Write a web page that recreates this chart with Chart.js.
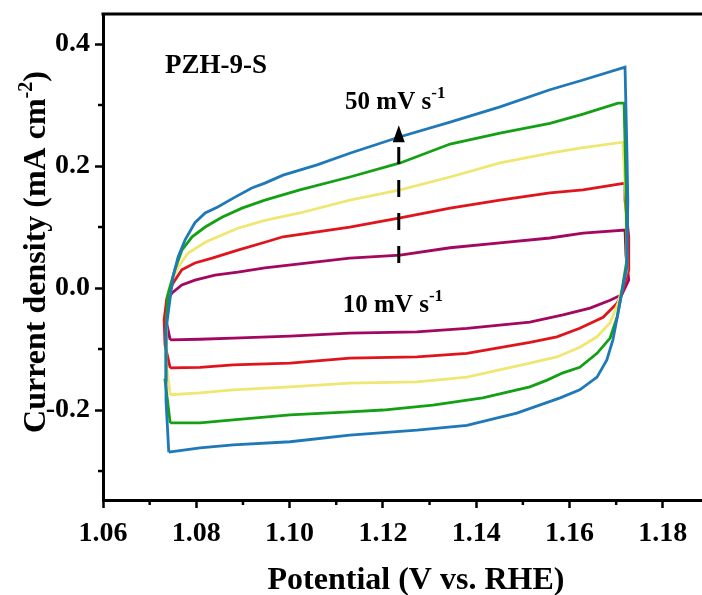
<!DOCTYPE html>
<html>
<head>
<meta charset="utf-8">
<script src="https://cdn.jsdelivr.net/npm/chart.js@4.4.1/dist/chart.umd.min.js"></script>
<style>
html, body { margin: 0; padding: 0; background: #fff; overflow: hidden; }
canvas { display: block; }
</style>
</head>
<body>
<canvas id="cv" width="702" height="595"></canvas>
<script>
// CV loops of PZH-9-S at different scan rates (mV s-1)
const scanRates = [50, 40, 30, 20, 10];
const lineColors = ['#1f78b8', '#14a014', '#f0e672', '#e0141c', '#a3075f'];

// potential (V vs. RHE) / current density (mA cm-2), one full loop each
const potential50 = [1.0741, 1.0735, 1.0735, 1.0744, 1.0750, 1.0761, 1.0776, 1.0797, 1.0819, 1.0846, 1.0883, 1.0919, 1.0947, 1.0986, 1.1059, 1.1129, 1.1237, 1.1344, 1.1451, 1.1558, 1.1629, 1.1719, 1.1723, 1.1725, 1.1723, 1.1712, 1.1704, 1.1693, 1.1680, 1.1659, 1.1622, 1.1580, 1.1487, 1.1380, 1.1273, 1.1129, 1.1001, 1.0879, 1.0808, 1.0741];
const current50 = [-0.269, -0.184, -0.069, -0.016, 0.018, 0.051, 0.079, 0.107, 0.123, 0.133, 0.149, 0.164, 0.172, 0.185, 0.202, 0.221, 0.248, 0.272, 0.297, 0.325, 0.341, 0.362, 0.226, 0.144, 0.034, -0.008, -0.041, -0.085, -0.118, -0.146, -0.167, -0.180, -0.205, -0.225, -0.233, -0.241, -0.252, -0.257, -0.262, -0.269];

const potential40 = [1.0744, 1.0733, 1.0735, 1.0739, 1.0754, 1.0769, 1.0791, 1.0819, 1.0855, 1.0898, 1.0947, 1.1022, 1.1129, 1.1237, 1.1344, 1.1451, 1.1558, 1.1629, 1.1704, 1.1717, 1.1721, 1.1723, 1.1710, 1.1702, 1.1687, 1.1659, 1.1622, 1.1586, 1.1552, 1.1515, 1.1414, 1.1307, 1.1200, 1.1129, 1.1001, 1.0879, 1.0808, 1.0744];
const current40 = [-0.221, -0.151, -0.069, -0.011, 0.030, 0.062, 0.084, 0.100, 0.116, 0.131, 0.144, 0.161, 0.182, 0.205, 0.236, 0.254, 0.270, 0.285, 0.303, 0.303, 0.172, 0.046, -0.015, -0.048, -0.082, -0.107, -0.130, -0.139, -0.151, -0.162, -0.180, -0.192, -0.200, -0.203, -0.208, -0.216, -0.221, -0.221];

const potential30 = [1.0744, 1.0735, 1.0737, 1.0741, 1.0748, 1.0761, 1.0782, 1.0819, 1.0855, 1.0889, 1.0947, 1.1022, 1.1129, 1.1237, 1.1344, 1.1451, 1.1558, 1.1629, 1.1714, 1.1721, 1.1723, 1.1704, 1.1687, 1.1659, 1.1622, 1.1573, 1.1515, 1.1380, 1.1273, 1.1129, 1.1001, 1.0879, 1.0808, 1.0744];
const current30 = [-0.175, -0.118, -0.052, -0.003, 0.013, 0.034, 0.057, 0.075, 0.087, 0.098, 0.111, 0.123, 0.144, 0.161, 0.182, 0.205, 0.221, 0.230, 0.239, 0.144, 0.030, -0.025, -0.057, -0.080, -0.097, -0.113, -0.123, -0.146, -0.154, -0.156, -0.162, -0.167, -0.172, -0.175];

const potential20 = [1.0744, 1.0733, 1.0731, 1.0737, 1.0750, 1.0769, 1.0797, 1.0834, 1.0889, 1.0947, 1.0986, 1.1129, 1.1237, 1.1344, 1.1451, 1.1558, 1.1629, 1.1719, 1.1719, 1.1727, 1.1727, 1.1712, 1.1702, 1.1672, 1.1622, 1.1573, 1.1515, 1.1380, 1.1273, 1.1129, 1.1001, 1.0879, 1.0808, 1.0744];
const current20 = [-0.131, -0.093, -0.052, -0.016, 0.008, 0.030, 0.041, 0.049, 0.062, 0.075, 0.084, 0.100, 0.115, 0.131, 0.144, 0.156, 0.161, 0.172, 0.144, 0.084, 0.030, -0.011, -0.025, -0.048, -0.066, -0.080, -0.089, -0.107, -0.113, -0.115, -0.123, -0.126, -0.130, -0.131];

const potential10 = [1.0744, 1.0735, 1.0737, 1.0748, 1.0769, 1.0797, 1.0840, 1.0889, 1.0947, 1.1129, 1.1237, 1.1344, 1.1451, 1.1558, 1.1629, 1.1719, 1.1721, 1.1727, 1.1712, 1.1687, 1.1644, 1.1586, 1.1515, 1.1380, 1.1273, 1.1129, 1.1001, 1.0879, 1.0808, 1.0744];
const current10 = [-0.085, -0.052, -0.020, -0.008, 0.005, 0.013, 0.021, 0.026, 0.033, 0.049, 0.054, 0.066, 0.074, 0.082, 0.090, 0.095, 0.054, 0.013, -0.011, -0.020, -0.033, -0.044, -0.056, -0.066, -0.072, -0.074, -0.079, -0.082, -0.084, -0.085];

const potentials = [potential50, potential40, potential30, potential20, potential10];
const currents = [current50, current40, current30, current20, current10];

// axes
const xTicks = [1.06, 1.08, 1.10, 1.12, 1.14, 1.16, 1.18];
const xMinorTicks = [1.07, 1.09, 1.11, 1.13, 1.15, 1.17];
const yTicks = [-0.2, 0.0, 0.2, 0.4];
const yMinorTicks = [-0.3, -0.1, 0.1, 0.3];
const xRange = [1.06, 1.1884];
const yRange = [-0.3475, 0.4492];

// annotations (data coords)
const sampleLabel = { text: 'PZH-9-S', x: 1.0733, y: 0.352 };
const rateLabels = [
    { text: '50 mV s', sup: '-1', x: 1.1119, y: 0.293 },
    { text: '10 mV s', sup: '-1', x: 1.1114, y: -0.039 }
];
const arrow = { x: 1.1234, from: 0.041, to: 0.267 };

const FONT = "'Liberation Serif', 'Times New Roman', serif";

function drawRich(ctx, parts, x, y, size, supSize, rise, center) {
    let w = 0;
    parts.forEach(p => {
        ctx.font = `bold ${p[1] ? supSize : size}px ${FONT}`;
        w += ctx.measureText(p[0]).width;
    });
    let cx = center ? x - w / 2 : x;
    parts.forEach(p => {
        ctx.font = `bold ${p[1] ? supSize : size}px ${FONT}`;
        ctx.fillText(p[0], cx, p[1] ? y - rise : y);
        cx += ctx.measureText(p[0]).width;
    });
}

const decorPlugin = {
    id: 'decor',
    afterDraw(chart) {
        const ctx = chart.ctx;
        const xs = chart.scales.x, ys = chart.scales.y;
        const area = chart.chartArea;
        ctx.save();
        ctx.strokeStyle = '#000';
        ctx.fillStyle = '#000';

        // top frame line
        ctx.lineWidth = 3;
        ctx.beginPath();
        ctx.moveTo(area.left - 1.5, area.top);
        ctx.lineTo(area.right, area.top);
        ctx.stroke();

        // minor ticks
        ctx.lineWidth = 2.5;
        xMinorTicks.forEach(v => {
            const px = xs.getPixelForValue(v);
            ctx.beginPath();
            ctx.moveTo(px, area.bottom);
            ctx.lineTo(px, area.bottom + 5);
            ctx.stroke();
        });
        yMinorTicks.forEach(v => {
            const py = ys.getPixelForValue(v);
            ctx.beginPath();
            ctx.moveTo(area.left, py);
            ctx.lineTo(area.left - 5, py);
            ctx.stroke();
        });

        // dashed arrow
        const ax = xs.getPixelForValue(arrow.x);
        const ay0 = ys.getPixelForValue(arrow.from);
        const ay1 = ys.getPixelForValue(arrow.to);
        ctx.lineWidth = 3;
        ctx.setLineDash([17, 16]);
        ctx.beginPath();
        ctx.moveTo(ax, ay0);
        ctx.lineTo(ax, ay1 + 16);
        ctx.stroke();
        ctx.setLineDash([]);
        ctx.beginPath();
        ctx.moveTo(ax, ay1);
        ctx.lineTo(ax - 6, ay1 + 17);
        ctx.lineTo(ax + 6, ay1 + 17);
        ctx.closePath();
        ctx.fill();

        // text
        ctx.textAlign = 'left';
        ctx.textBaseline = 'alphabetic';
        ctx.font = `bold 27px ${FONT}`;
        ctx.fillText(sampleLabel.text, xs.getPixelForValue(sampleLabel.x), ys.getPixelForValue(sampleLabel.y));
        rateLabels.forEach(l => {
            drawRich(ctx, [[l.text, false], [l.sup, true]],
                xs.getPixelForValue(l.x), ys.getPixelForValue(l.y), 25, 17, 11, false);
        });

        // axis titles
        drawRich(ctx, [['Potential (V vs. RHE)', false]], 416, area.bottom + 89, 32, 20, 13, true);
        ctx.translate(area.left - 58, (area.top + area.bottom) / 2 - 5);
        ctx.rotate(-Math.PI / 2);
        drawRich(ctx, [['Current density (mA cm', false], ['-2', true], [')', false]], 0, 0, 32, 20, 13, true);
        ctx.restore();
    }
};

const datasets = scanRates.map((rate, i) => ({
    label: rate + ' mV s-1',
    data: potentials[i].map((v, j) => ({ x: v, y: currents[i][j] })),
    borderColor: lineColors[i],
    backgroundColor: lineColors[i],
    borderWidth: 2.8,
    showLine: true,
    pointRadius: 0,
    tension: 0
}));

const tickFont = { family: FONT, size: 28, weight: 'bold' };

function noScalePadding(s) {
    s.paddingTop = 0;
    s.paddingBottom = 0;
    s.paddingLeft = 0;
    s.paddingRight = 0;
}

new Chart(document.getElementById('cv'), {
    type: 'scatter',
    data: { datasets: datasets },
    options: {
        responsive: false,
        animation: false,
        devicePixelRatio: 1,
        layout: { padding: { top: 14, left: 0, right: 0, bottom: 0 } },
        plugins: { legend: { display: false }, tooltip: { enabled: false } },
        scales: {
            x: {
                type: 'linear',
                min: xRange[0],
                max: xRange[1],
                afterBuildTicks: s => { s.ticks = xTicks.map(v => ({ value: v })); },
                afterFit: s => { s.height = 95; noScalePadding(s); },
                ticks: {
                    font: tickFont, color: '#000', padding: 9, maxRotation: 0,
                    callback: v => v.toFixed(2)
                },
                grid: { drawOnChartArea: false, drawTicks: true, tickLength: 8, tickWidth: 2.5, tickColor: '#000' },
                border: { color: '#000', width: 3 }
            },
            y: {
                type: 'linear',
                min: yRange[0],
                max: yRange[1],
                afterBuildTicks: s => { s.ticks = yTicks.map(v => ({ value: v })); },
                afterFit: s => { s.width = 103; noScalePadding(s); },
                ticks: {
                    font: tickFont, color: '#000', padding: 5,
                    callback: v => v.toFixed(1)
                },
                grid: { drawOnChartArea: false, drawTicks: true, tickLength: 8, tickWidth: 2.5, tickColor: '#000' },
                border: { color: '#000', width: 3 }
            }
        }
    },
    plugins: [decorPlugin]
});
</script>
</body>
</html>
